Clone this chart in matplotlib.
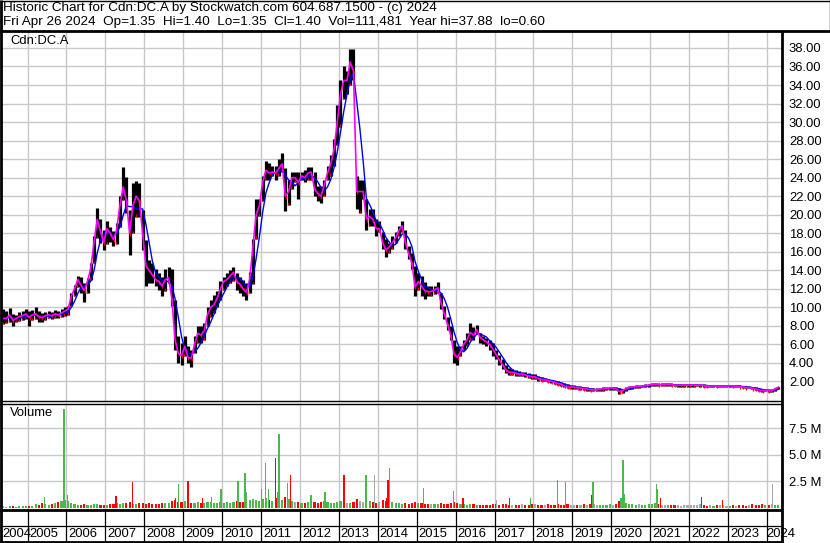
import numpy as np
import pandas as pd
import matplotlib
matplotlib.use("Agg")
import matplotlib.pyplot as plt
from matplotlib.lines import Line2D

plt.rcParams['font.family'] = ['Liberation Sans', 'DejaVu Sans']

# ---------------- data ----------------
title_line1 = "Historic Chart for Cdn:DC.A by Stockwatch.com 604.687.1500 - (c) 2024"
title_line2 = "Fri Apr 26 2024  Op=1.35  Hi=1.40  Lo=1.35  Cl=1.40  Vol=111,481  Year hi=37.88  lo=0.60"
symbol = "Cdn:DC.A"
volume_label = "Volume"

start_year, start_month = 2004, 5   # first monthly bar: May 2004

highs = [
    9.8, 9.6, 9.9, 9.3, 9.2, 9.5, 9.6, 9.8,                                  # 2004 May-Dec
    9.6, 9.7, 10.0, 9.6, 9.4, 9.5, 9.6, 9.5, 9.7, 9.6, 9.8, 10.0,            # 2005
    10.1, 11.5, 12.4, 13.4, 13.3, 12.6, 13.2, 14.8, 17.7, 20.7, 19.5, 18.4,  # 2006
    19.3, 18.7, 18.2, 19.1, 22.0, 25.2, 24.1, 20.5, 23.4, 23.6, 23.4, 20.5,  # 2007
    17.3, 15.1, 14.8, 14.1, 13.7, 13.3, 14.1, 14.4, 14.1, 10.8, 6.9, 6.1,    # 2008
    6.9, 5.8, 5.4, 6.9, 8.0, 8.0, 8.3, 10.0, 10.8, 11.3, 11.8, 12.8,         # 2009
    13.3, 13.7, 14.0, 14.4, 13.7, 13.3, 13.0, 12.6, 13.8, 17.4, 21.7, 21.7,  # 2010
    24.2, 25.8, 25.6, 25.3, 25.3, 26.0, 26.7, 25.0, 23.8, 24.6, 24.6, 24.6,  # 2011
    24.6, 24.8, 25.1, 25.1, 24.6, 23.1, 23.1, 23.8, 25.3, 26.4, 28.2, 31.8,  # 2012
    34.5, 36.0, 35.5, 37.9, 37.9, 24.2, 23.8, 23.8, 21.7, 20.6, 20.6, 19.5,  # 2013
    19.3, 18.1, 17.4, 17.0, 17.7, 18.1, 18.8, 19.3, 18.4, 16.6, 15.9, 14.5,  # 2014
    13.7, 13.4, 12.7, 12.3, 12.3, 12.3, 12.7, 11.6, 10.1, 9.0, 8.0, 6.5,     # 2015
    5.8, 5.8, 6.5, 7.2, 8.3, 7.9, 8.1, 7.2, 6.9, 6.7, 6.5, 6.2,              # 2016
    5.4, 4.9, 4.4, 3.8, 3.5, 3.3, 3.2, 3.1, 3.0, 3.0, 2.9, 2.8,              # 2017
    2.8, 2.6, 2.5, 2.4, 2.3, 2.2, 2.1, 2.0, 1.9, 1.8, 1.7, 1.6,              # 2018
    1.6, 1.5, 1.5, 1.4, 1.4, 1.3, 1.3, 1.3, 1.3, 1.4, 1.4, 1.45,             # 2019
    1.45, 1.4, 1.3, 1.2, 1.35, 1.5, 1.55, 1.6, 1.6, 1.6, 1.7, 1.75,          # 2020
    1.8, 1.85, 1.8, 1.8, 1.8, 1.85, 1.8, 1.75, 1.75, 1.75, 1.75, 1.7,        # 2021
    1.75, 1.7, 1.75, 1.75, 1.7, 1.65, 1.65, 1.65, 1.65, 1.6, 1.65, 1.65,     # 2022
    1.65, 1.65, 1.6, 1.6, 1.55, 1.5, 1.5, 1.4, 1.35, 1.3, 1.2, 1.2,          # 2023
    1.2, 1.15, 1.3, 1.45,                                                    # 2024 Jan-Apr
]
lows = [
    8.2, 8.3, 8.4, 8.0, 8.4, 8.5, 8.6, 8.7,
    8.0, 8.6, 8.7, 8.4, 8.4, 8.6, 8.8, 8.7, 8.9, 8.8, 9.0, 9.1,
    9.2, 10.1, 11.2, 12.2, 11.5, 10.6, 11.5, 13.0, 14.8, 17.5, 17.0, 16.2,
    16.8, 17.1, 16.6, 16.8, 18.7, 21.6, 20.2, 15.7, 18.0, 19.8, 19.8, 16.2,
    12.3, 12.6, 12.6, 12.3, 11.9, 11.2, 11.8, 12.6, 10.1, 5.4, 4.0, 3.8,
    4.7, 4.0, 3.6, 5.1, 6.2, 6.2, 6.5, 8.0, 9.0, 9.4, 10.0, 10.8,
    11.9, 12.3, 12.6, 12.8, 11.9, 11.5, 11.2, 10.8, 11.5, 12.5, 17.4, 19.9,
    21.5, 23.8, 23.8, 24.2, 23.8, 24.2, 24.6, 20.4, 21.0, 22.8, 23.5, 21.7,
    23.7, 23.5, 23.7, 23.8, 22.0, 21.5, 21.3, 22.0, 23.8, 24.2, 25.3, 27.5,
    29.5, 32.5, 33.0, 34.0, 34.5, 20.6, 20.2, 21.7, 18.4, 18.8, 18.8, 17.7,
    18.1, 16.3, 15.4, 15.9, 16.3, 17.0, 17.7, 18.1, 16.3, 15.2, 14.1, 11.2,
    11.9, 11.2, 10.9, 11.2, 11.2, 11.4, 11.6, 9.8, 8.7, 7.6, 6.5, 4.0,
    3.8, 4.7, 5.4, 5.8, 6.5, 6.5, 7.1, 6.2, 6.0, 5.8, 5.4, 4.7,
    4.4, 3.8, 3.3, 2.9, 2.7, 2.7, 2.6, 2.6, 2.6, 2.5, 2.4, 2.3,
    2.3, 2.1, 2.0, 2.0, 1.9, 1.8, 1.7, 1.6, 1.5, 1.4, 1.3, 1.2,
    1.2, 1.2, 1.1, 1.1, 1.0, 1.0, 1.0, 0.95, 1.0, 1.0, 1.05, 1.1,
    1.1, 1.1, 0.6, 0.8, 1.0, 1.15, 1.2, 1.3, 1.3, 1.35, 1.4, 1.45,
    1.5, 1.5, 1.5, 1.5, 1.5, 1.55, 1.5, 1.5, 1.45, 1.45, 1.45, 1.45,
    1.45, 1.45, 1.5, 1.45, 1.4, 1.4, 1.4, 1.4, 1.4, 1.35, 1.4, 1.4,
    1.4, 1.4, 1.35, 1.35, 1.3, 1.25, 1.25, 1.15, 1.1, 1.0, 0.9, 0.95,
    0.9, 0.85, 0.95, 1.2,
]
closes = [
    8.8, 8.8, 9.2, 8.6, 8.8, 9.0, 9.1, 9.3,
    8.9, 9.2, 9.3, 9.0, 8.9, 9.1, 9.2, 9.1, 9.3, 9.2, 9.4, 9.6,
    9.8, 11.2, 12.0, 13.0, 12.4, 11.8, 12.8, 14.2, 17.0, 19.5, 18.2, 17.0,
    18.5, 18.0, 17.3, 18.4, 21.0, 23.0, 21.5, 18.0, 21.0, 22.0, 21.5, 18.0,
    14.5, 14.0, 13.5, 13.0, 12.8, 12.3, 13.0, 13.2, 11.0, 6.5, 5.0, 4.8,
    5.8, 4.6, 4.5, 6.0, 7.2, 7.0, 7.5, 9.2, 10.0, 10.3, 11.0, 12.0,
    12.8, 13.0, 13.4, 13.8, 12.8, 12.5, 12.0, 11.6, 13.0, 16.5, 20.0, 21.0,
    23.5, 24.8, 24.5, 24.6, 24.5, 25.0, 25.5, 22.0, 22.5, 24.0, 24.0, 23.5,
    24.2, 24.0, 24.5, 24.6, 22.8, 22.3, 22.0, 23.2, 24.5, 25.5, 27.0, 30.0,
    33.0, 34.5, 34.5, 36.5, 35.5, 22.5, 22.5, 22.5, 19.5, 19.8, 19.5, 18.5,
    18.5, 17.0, 16.2, 16.5, 17.0, 17.5, 18.3, 18.8, 17.0, 15.8, 14.8, 12.2,
    12.8, 12.3, 11.8, 11.7, 11.7, 11.9, 12.1, 10.5, 9.3, 8.2, 7.0, 5.0,
    4.6, 5.2, 6.0, 6.5, 7.3, 7.0, 7.6, 6.8, 6.5, 6.3, 6.0, 5.5,
    4.9, 4.3, 3.8, 3.3, 3.0, 3.0, 2.9, 2.8, 2.8, 2.7, 2.6, 2.5,
    2.5, 2.3, 2.2, 2.2, 2.1, 2.0, 1.9, 1.8, 1.7, 1.5, 1.4, 1.4,
    1.4, 1.3, 1.3, 1.2, 1.2, 1.1, 1.1, 1.1, 1.15, 1.2, 1.25, 1.3,
    1.3, 1.25, 0.9, 1.05, 1.2, 1.35, 1.4, 1.45, 1.45, 1.5, 1.55, 1.6,
    1.65, 1.7, 1.65, 1.65, 1.65, 1.7, 1.65, 1.6, 1.6, 1.6, 1.6, 1.6,
    1.6, 1.6, 1.6, 1.6, 1.55, 1.5, 1.5, 1.55, 1.5, 1.5, 1.5, 1.5,
    1.55, 1.5, 1.5, 1.45, 1.4, 1.35, 1.35, 1.25, 1.2, 1.1, 1.0, 1.05,
    1.0, 1.0, 1.2, 1.4,
]
# typical daily volume per month (millions)
vol_base = [
    0.12, 0.08, 0.15, 0.10, 0.08, 0.10, 0.12, 0.15,
    0.15, 0.12, 0.30, 0.20, 0.45, 0.35, 0.25, 0.30, 0.40, 0.50, 0.60, 0.70,
    0.60, 0.45, 0.30, 0.25, 0.20, 0.30, 0.25, 0.20, 0.35, 0.30, 0.25, 0.20,
    0.25, 0.30, 0.35, 0.40, 0.30, 0.45, 0.40, 0.50, 0.35, 0.30, 0.40, 0.45,
    0.30, 0.40, 0.35, 0.30, 0.35, 0.40, 0.45, 0.40, 0.60, 0.70, 0.55, 0.50,
    0.60, 0.50, 0.45, 0.40, 0.50, 0.40, 0.45, 0.55, 0.50, 0.45, 0.40, 0.50,
    0.45, 0.50, 0.40, 0.50, 0.60, 0.55, 0.50, 0.60, 0.70, 0.80, 0.70, 0.60,
    0.80, 0.90, 0.70, 0.60, 0.90, 0.80, 0.70, 1.00, 0.80, 0.60, 0.50, 0.50,
    0.40, 0.45, 0.50, 0.60, 0.55, 0.45, 0.50, 0.60, 0.50, 0.40, 0.45, 0.55,
    0.60, 0.50, 0.40, 0.45, 0.50, 0.80, 0.60, 0.50, 0.55, 0.60, 0.50, 0.45,
    0.50, 0.70, 0.60, 0.80, 0.50, 0.40, 0.45, 0.35, 0.40, 0.35, 0.40, 0.50,
    0.45, 0.40, 0.35, 0.30, 0.35, 0.30, 0.35, 0.40, 0.35, 0.30, 0.45, 0.50,
    0.45, 0.35, 0.30, 0.25, 0.35, 0.30, 0.25, 0.20, 0.25, 0.20, 0.25, 0.30,
    0.30, 0.25, 0.35, 0.30, 0.25, 0.20, 0.25, 0.20, 0.30, 0.25, 0.20, 0.35,
    0.30, 0.25, 0.20, 0.25, 0.30, 0.20, 0.25, 0.35, 0.20, 0.25, 0.30, 0.20,
    0.20, 0.25, 0.20, 0.30, 0.25, 0.35, 0.30, 0.20, 0.25, 0.20, 0.25, 0.30,
    0.25, 0.30, 0.60, 0.50, 0.45, 0.35, 0.30, 0.25, 0.30, 0.20, 0.25, 0.30,
    0.35, 0.40, 0.30, 0.25, 0.20, 0.25, 0.20, 0.25, 0.20, 0.15, 0.20, 0.25,
    0.20, 0.25, 0.20, 0.35, 0.20, 0.15, 0.20, 0.15, 0.20, 0.25, 0.20, 0.15,
    0.15, 0.20, 0.15, 0.25, 0.20, 0.15, 0.20, 0.30, 0.25, 0.20, 0.30, 0.25,
    0.25, 0.30, 0.20, 0.25,
]
# single-day volume spikes (decimal year, millions, colour code g/r/n)
spike_t = [2005.44, 2005.94, 2006.03, 2007.27, 2007.69, 2008.80, 2008.88, 2009.12,
           2009.50, 2009.73, 2009.97, 2010.41, 2010.59, 2010.63, 2011.01, 2011.11,
           2011.20, 2011.37, 2011.42, 2011.46, 2011.68, 2011.75, 2012.28, 2012.64,
           2013.13, 2013.70, 2013.92, 2014.22, 2014.26, 2014.30, 2015.17, 2015.95,
           2016.19, 2017.05, 2017.39, 2017.92, 2018.61, 2018.83, 2019.50, 2019.53,
           2020.25, 2020.30, 2020.33, 2021.16, 2021.19, 2021.26, 2022.31, 2022.86,
           2024.15]
spike_v = [1.0, 9.3, 1.2, 1.1, 2.4, 0.9, 2.2, 2.5,
           0.9, 1.0, 1.7, 2.5, 3.3, 1.5, 1.7, 4.2,
           1.7, 4.7, 1.5, 6.9, 2.3, 3.1, 1.2, 1.5,
           3.1, 3.1, 3.1, 0.9, 2.6, 3.7, 1.8, 1.6,
           0.9, 0.7, 0.9, 0.9, 2.6, 2.4, 1.2, 2.4,
           0.9, 4.5, 1.3, 2.2, 1.7, 0.9, 1.0, 0.7,
           2.2]
spike_c = ['g', 'g', 'g', 'r', 'r', 'r', 'g', 'r',
           'r', 'g', 'g', 'g', 'g', 'g', 'g', 'g',
           'g', 'r', 'g', 'g', 'g', 'r', 'g', 'g',
           'r', 'g', 'n', 'r', 'r', 'g', 'g', 'g',
           'r', 'n', 'r', 'g', 'g', 'g', 'r', 'g',
           'g', 'g', 'g', 'g', 'g', 'r', 'r', 'r',
           'n']

price_ticks = [2, 4, 6, 8, 10, 12, 14, 16, 18, 20, 22, 24, 26, 28, 30, 32, 34, 36, 38]
vol_ticks = [2.5, 5.0, 7.5]
vol_tick_labels = ["2.5 M", "5.0 M", "7.5 M"]
years = list(range(2005, 2025))
year_labels = [str(y) for y in range(2004, 2025)]

# ---------------- geometry helpers ----------------
W, H = 830, 543
fig = plt.figure(figsize=(W / 100, H / 100), dpi=100)
fig.patch.set_facecolor('white')


def fx(px):
    return px / W


def fy(py):
    return 1 - py / H


def axes_px(x0, y0, x1, y1):
    return fig.add_axes([fx(x0), fy(y1), fx(x1) - fx(x0), (y1 - y0) / H])


PX_PER_YEAR = 38.92
X_2005 = 27.5


def px2t(px):
    return 2005 + (px - X_2005) / PX_PER_YEAR


XL = (px2t(2), px2t(782))

n = len(closes)
t = np.array([start_year + (start_month - 1 + i + 0.5) / 12 for i in range(n)])
hi = np.array(highs)
lo = np.array(lows)
cl = np.array(closes)
prev = np.concatenate([[cl[0]], cl[:-1]])
ma_fast = cl
ma_slow = pd.Series(cl).rolling(4, min_periods=1).mean().values

GRID = '#c8c8c8'
GREEN = '#4cb84c'
RED = '#ff0000'
GREY = '#a8a8a8'
FS = 9.4
FS_HEAD = 9.7

# ---------------- price panel ----------------
ax = axes_px(2, 31, 782, 401)
ax.set_xlim(*XL)
ax.set_ylim(-1 / 9.264, 369 / 9.264)
ax.set_xticks(years)
ax.set_yticks(price_ticks)
ax.set_yticklabels([f"{v:.2f}" for v in price_ticks])
ax.yaxis.tick_right()
ax.tick_params(axis='y', length=0, pad=5, labelsize=FS)
ax.tick_params(axis='x', length=0, labelbottom=False)
ax.grid(True, color=GRID, lw=1.0)
ax.set_axisbelow(True)
for s in ax.spines.values():
    s.set_visible(False)

ax.vlines(t, lo, hi, color='black', lw=2.3, zorder=2)
down = cl < prev
ax.vlines(t[down] + 0.01, cl[down] - 0.25, cl[down] + 0.05, color=RED, lw=1.0, zorder=3)
ax.vlines(t[~down] - 0.01, lo[~down], lo[~down] + 0.25, color=RED, lw=1.0, zorder=3)
ax.plot(t, ma_slow, color='#0000ff', lw=1.0, zorder=4)
ax.plot(t, ma_fast, color='#ff00ff', lw=1.2, zorder=5)
ax.text(8 / 780, 1 - 10 / 370, symbol, transform=ax.transAxes,
        ha='left', va='center', fontsize=FS)

# ---------------- volume panel ----------------
axv = axes_px(2, 403, 782, 510)
axv.set_xlim(*XL)
axv.set_ylim(-2.5 / 10.59, 104.5 / 10.59)
axv.set_xticks(years)
axv.set_yticks(vol_ticks)
axv.set_yticklabels(vol_tick_labels)
axv.yaxis.tick_right()
axv.tick_params(axis='y', length=0, pad=5, labelsize=FS)
axv.tick_params(axis='x', length=0, labelbottom=False)
axv.grid(True, color=GRID, lw=1.0)
axv.set_axisbelow(True)
for s in axv.spines.values():
    s.set_visible(False)

base_cols = [GREEN if c > p else (RED if c < p else GREY) for c, p in zip(cl, prev)]
axv.bar(t, vol_base, width=0.055, color=base_cols, lw=0, zorder=2)
cmap = {'g': GREEN, 'r': RED, 'n': GREY}
axv.bar(spike_t, spike_v, width=0.035, color=[cmap[c] for c in spike_c], lw=0, zorder=3)
axv.text(8 / 780, 1 - 10 / 107, volume_label, transform=axv.transAxes,
         ha='left', va='center', fontsize=FS)

# ---------------- date strip ----------------
axd = axes_px(2, 510, 782, 542)
axd.set_xlim(*XL)
axd.set_ylim(0, 1)
axd.axis('off')
for y in years:
    axd.axvline(y, color='black', lw=0.9)
axd.axhline(0.5, color='black', lw=0.9)
off = 2 / PX_PER_YEAR
for lab in year_labels:
    yv = int(lab)
    if yv == 2004:
        axd.text(XL[0] + 0.2 / PX_PER_YEAR, 0.25, lab, ha='left', va='center',
                 fontsize=FS, clip_on=False)
    elif yv == 2024:
        axd.text(yv - off * 0.5, 0.25, lab, ha='left', va='center', fontsize=FS, clip_on=False)
    else:
        axd.text(yv + off, 0.25, lab, ha='left', va='center', fontsize=FS, clip_on=False)

# ---------------- header & frame lines ----------------
fig.text(fx(3), fy(8), title_line1, ha='left', va='center', fontsize=FS_HEAD)
fig.text(fx(3), fy(22), title_line2, ha='left', va='center', fontsize=FS_HEAD)


def line(x0, y0, x1, y1, lw):
    fig.add_artist(Line2D([fx(x0), fx(x1)], [fy(y0), fy(y1)], transform=fig.transFigure,
                          color='black', lw=lw, solid_capstyle='butt'))


line(0, 0.5, 830, 0.5, 1.0)       # top border
line(829.5, 0, 829.5, 31, 1.0)    # right border of header
line(0, 31, 830, 31, 2.0)         # header separator
line(1, 0, 1, 543, 2.0)           # left border
line(782, 31, 782, 543, 2.0)      # right edge of plotting area
line(0, 401, 782, 401, 1.0)
line(0, 403.5, 782, 403.5, 1.0)
line(0, 510, 782, 510, 2.0)
line(0, 542, 782, 542, 2.0)

fig.savefig("out.png", dpi=100, facecolor='white')
